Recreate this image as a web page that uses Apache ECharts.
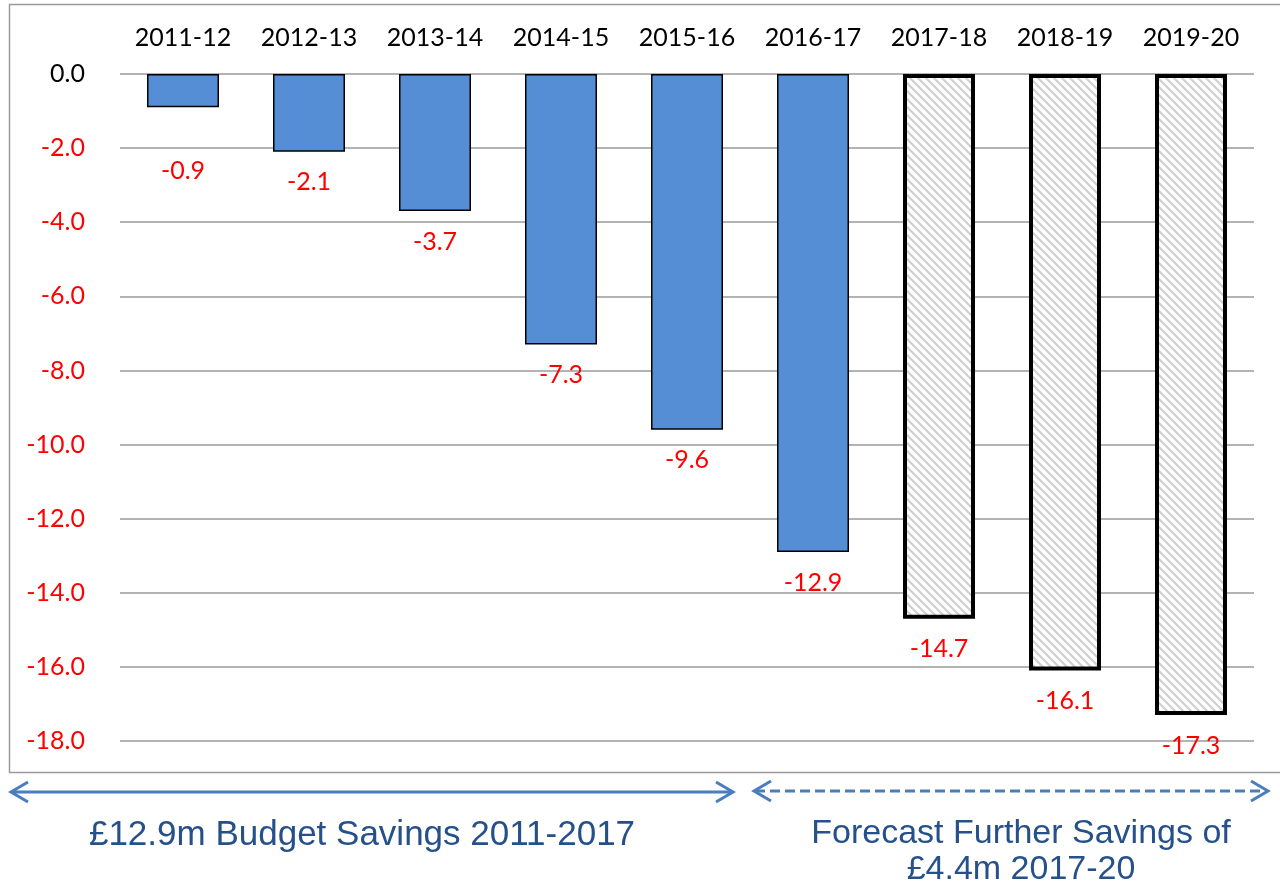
<!DOCTYPE html>
<html>
<head>
<meta charset="utf-8">
<script src="https://cdn.jsdelivr.net/npm/echarts@6/dist/echarts.min.js"></script>
<style>html,body{margin:0;padding:0;background:#fff;}#c{width:1280px;height:892px;}</style>
</head>
<body>
<div id="c"></div>
<script>
const categories = ['2011-12','2012-13','2013-14','2014-15','2015-16','2016-17','2017-18','2018-19','2019-20'];
const actualValues = [-0.9, -2.1, -3.7, -7.3, -9.6, -12.9, null, null, null];
const forecastValues = [null, null, null, null, null, null, -14.7, -16.1, -17.3];
const yMin = -18, yMax = 0, yStep = 2;
const leftNote = '£12.9m Budget Savings 2011-2017';
const rightNote = 'Forecast Further Savings of\n£4.4m 2017-20';

// hatch pattern
const pc = document.createElement('canvas');
const s = 8;
pc.width = s; pc.height = s;
const ctx = pc.getContext('2d');
ctx.fillStyle = '#ffffff'; ctx.fillRect(0,0,s,s);
ctx.strokeStyle = '#d0d0d0'; ctx.lineWidth = 2.2;
ctx.beginPath();
ctx.moveTo(-1,-1); ctx.lineTo(s+1,s+1);
ctx.moveTo(-2,s-2); ctx.lineTo(2,s+2);
ctx.moveTo(s-2,-2); ctx.lineTo(s+2,2);
ctx.stroke();

const chart = echarts.init(document.getElementById('c'));
const labelFont = 'Lato, "Noto Sans", sans-serif';
function mkData(arr) {
  return arr.map((v, i) => {
    if (v === null) return '-';
    const d = { value: v };
    if (i === 0) d.label = { distance: 51 };
    return d;
  });
}
const arrowColor = '#4a7ebb';
const textColor = '#25508a';
chart.setOption({
  animation: false,
  grid: { left: 120, right: 26, top: 74, bottom: 151 },
  xAxis: {
    type: 'category', data: categories, position: 'top',
    axisLine: { show: false }, axisTick: { show: false },
    axisLabel: { color: '#000', fontSize: 25, fontFamily: labelFont, margin: 24 }
  },
  yAxis: {
    type: 'value', min: yMin, max: yMax, interval: yStep,
    axisLine: { show: false }, axisTick: { show: false },
    splitLine: { lineStyle: { color: '#9a9a9a', width: 1.5 } },
    axisLabel: {
      fontSize: 25, fontFamily: labelFont, margin: 35,
      formatter: v => v.toFixed(1),
      color: v => (v < 0 ? '#ff0000' : '#000000')
    }
  },
  series: [
    {
      type: 'bar', data: mkData(actualValues), barWidth: 72, barGap: '-100%',
      itemStyle: { color: '#558ed5', borderColor: '#000', borderWidth: 1.5 },
      label: { show: true, position: 'bottom', distance: 18, color: '#ff0000', fontSize: 25, fontFamily: labelFont, formatter: p => p.value.toFixed(1) }
    },
    {
      type: 'bar', data: mkData(forecastValues), barWidth: 72, barGap: '-100%',
      itemStyle: { color: { image: pc, repeat: 'repeat' }, borderColor: '#000', borderWidth: 4 },
      label: { show: true, position: 'bottom', distance: 18, color: '#ff0000', fontSize: 25, fontFamily: labelFont, formatter: p => p.value.toFixed(1) }
    }
  ],
  graphic: [
    { type: 'rect', shape: { x: 9.5, y: 4.5, width: 1290, height: 768 }, style: { fill: null, stroke: '#9a9a9a', lineWidth: 1.5 }, silent: true, z: -1 },
    // solid arrow
    { type: 'line', shape: { x1: 11, y1: 792, x2: 732, y2: 792 }, style: { stroke: arrowColor, lineWidth: 3 } },
    { type: 'polyline', shape: { points: [[28, 782], [11, 792], [28, 802]] }, style: { stroke: arrowColor, lineWidth: 3, fill: null } },
    { type: 'polyline', shape: { points: [[716, 782], [733, 792], [716, 802]] }, style: { stroke: arrowColor, lineWidth: 3, fill: null } },
    // dashed arrow
    { type: 'line', shape: { x1: 755, y1: 791, x2: 1267, y2: 791 }, style: { stroke: arrowColor, lineWidth: 3, lineDash: [10, 5] } },
    { type: 'polyline', shape: { points: [[771, 781], [754, 791], [771, 801]] }, style: { stroke: arrowColor, lineWidth: 3, fill: null } },
    { type: 'polyline', shape: { points: [[1251, 781], [1268, 791], [1251, 801]] }, style: { stroke: arrowColor, lineWidth: 3, fill: null } },
    { type: 'text', x: 362, y: 853, style: { text: leftNote, fill: textColor, font: '35px "Liberation Sans", Arial, sans-serif', textAlign: 'center', textVerticalAlign: 'bottom' } },
    { type: 'text', x: 1021, y: 888, style: { text: rightNote, fill: textColor, font: '34px "Liberation Sans", Arial, sans-serif', textAlign: 'center', textVerticalAlign: 'bottom', lineHeight: 36 } }
  ]
});
</script>
</body>
</html>
